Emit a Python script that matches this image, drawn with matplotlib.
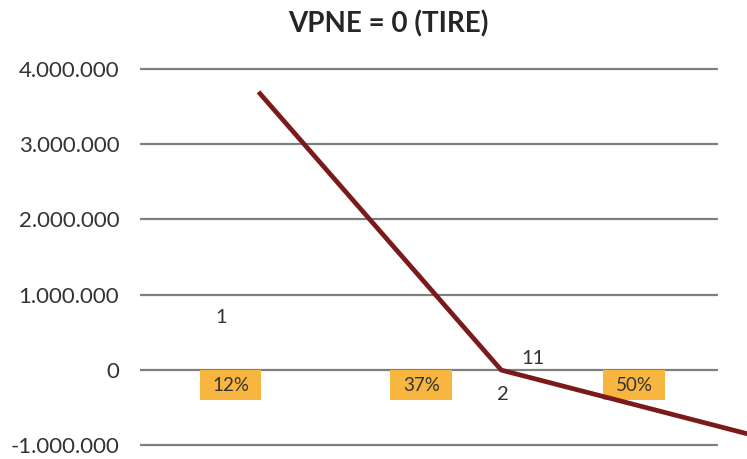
import matplotlib
matplotlib.use('Agg')
import matplotlib.pyplot as plt
from matplotlib.ticker import FuncFormatter

plt.rcParams['font.family'] = ['Lato', 'DejaVu Sans']

# curva VPN vs tasa
tasas = [12.3, 37.5, 63.5]
vpn = [3690000, 0, -860000]

# etiquetas de tasa (cajas naranjas) y numeros sueltos
etiquetas_tasa = ['12%', '37%', '50%']
x_tasa = [9.4, 29.2, 51.3]

numeros = ['1', '11', '2', '3']
x_num = [8.4, 40.8, 37.7, 63.8]
y_num = [700000, 160000, -330000, -330000]

y_ticks = [-1000000, 0, 1000000, 2000000, 3000000, 4000000]

fig = plt.figure(figsize=(7.47, 4.59), dpi=100)
ax = fig.add_axes([140 / 747, 12 / 459, 578 / 747, 380 / 459])

# cajas de las etiquetas (ancho ~6.4 unidades, alto ~400.000)
ax.bar(x_tasa, -400000, width=6.4, bottom=0, color='#F8B53F', zorder=3)
for lab, x in zip(etiquetas_tasa, x_tasa):
    ax.text(x, -200000, lab, ha='center', va='center', fontsize=13.5,
            color='#333333', zorder=4)

ax.plot(tasas, vpn, color='#7B1A1A', linewidth=3.4, clip_on=False, zorder=5,
        solid_capstyle='butt')

for lab, x, y in zip(numeros, x_num, y_num):
    ax.text(x, y, lab, ha='center', va='center', fontsize=14.5, color='#333333',
            clip_on=False)

ax.set_xlim(0, 60)
ax.set_ylim(-1020000, 4020000)
ax.set_yticks(y_ticks)
ax.yaxis.set_major_formatter(FuncFormatter(lambda v, p: f'{int(v):,}'.replace(',', '.')))
ax.set_xticks([])
ax.tick_params(axis='y', length=0, pad=15, labelsize=16, labelcolor='#333333')
ax.grid(axis='y', color='#7F7F7F', linewidth=1.6)
ax.set_axisbelow(True)
for s in ax.spines.values():
    s.set_visible(False)

fig.text(388 / 747, 1 - 24 / 459, 'VPNE = 0 (TIRE)', ha='center', va='center',
         fontsize=20, fontweight='bold', color='#262626')

fig.savefig('out.png', dpi=100)
